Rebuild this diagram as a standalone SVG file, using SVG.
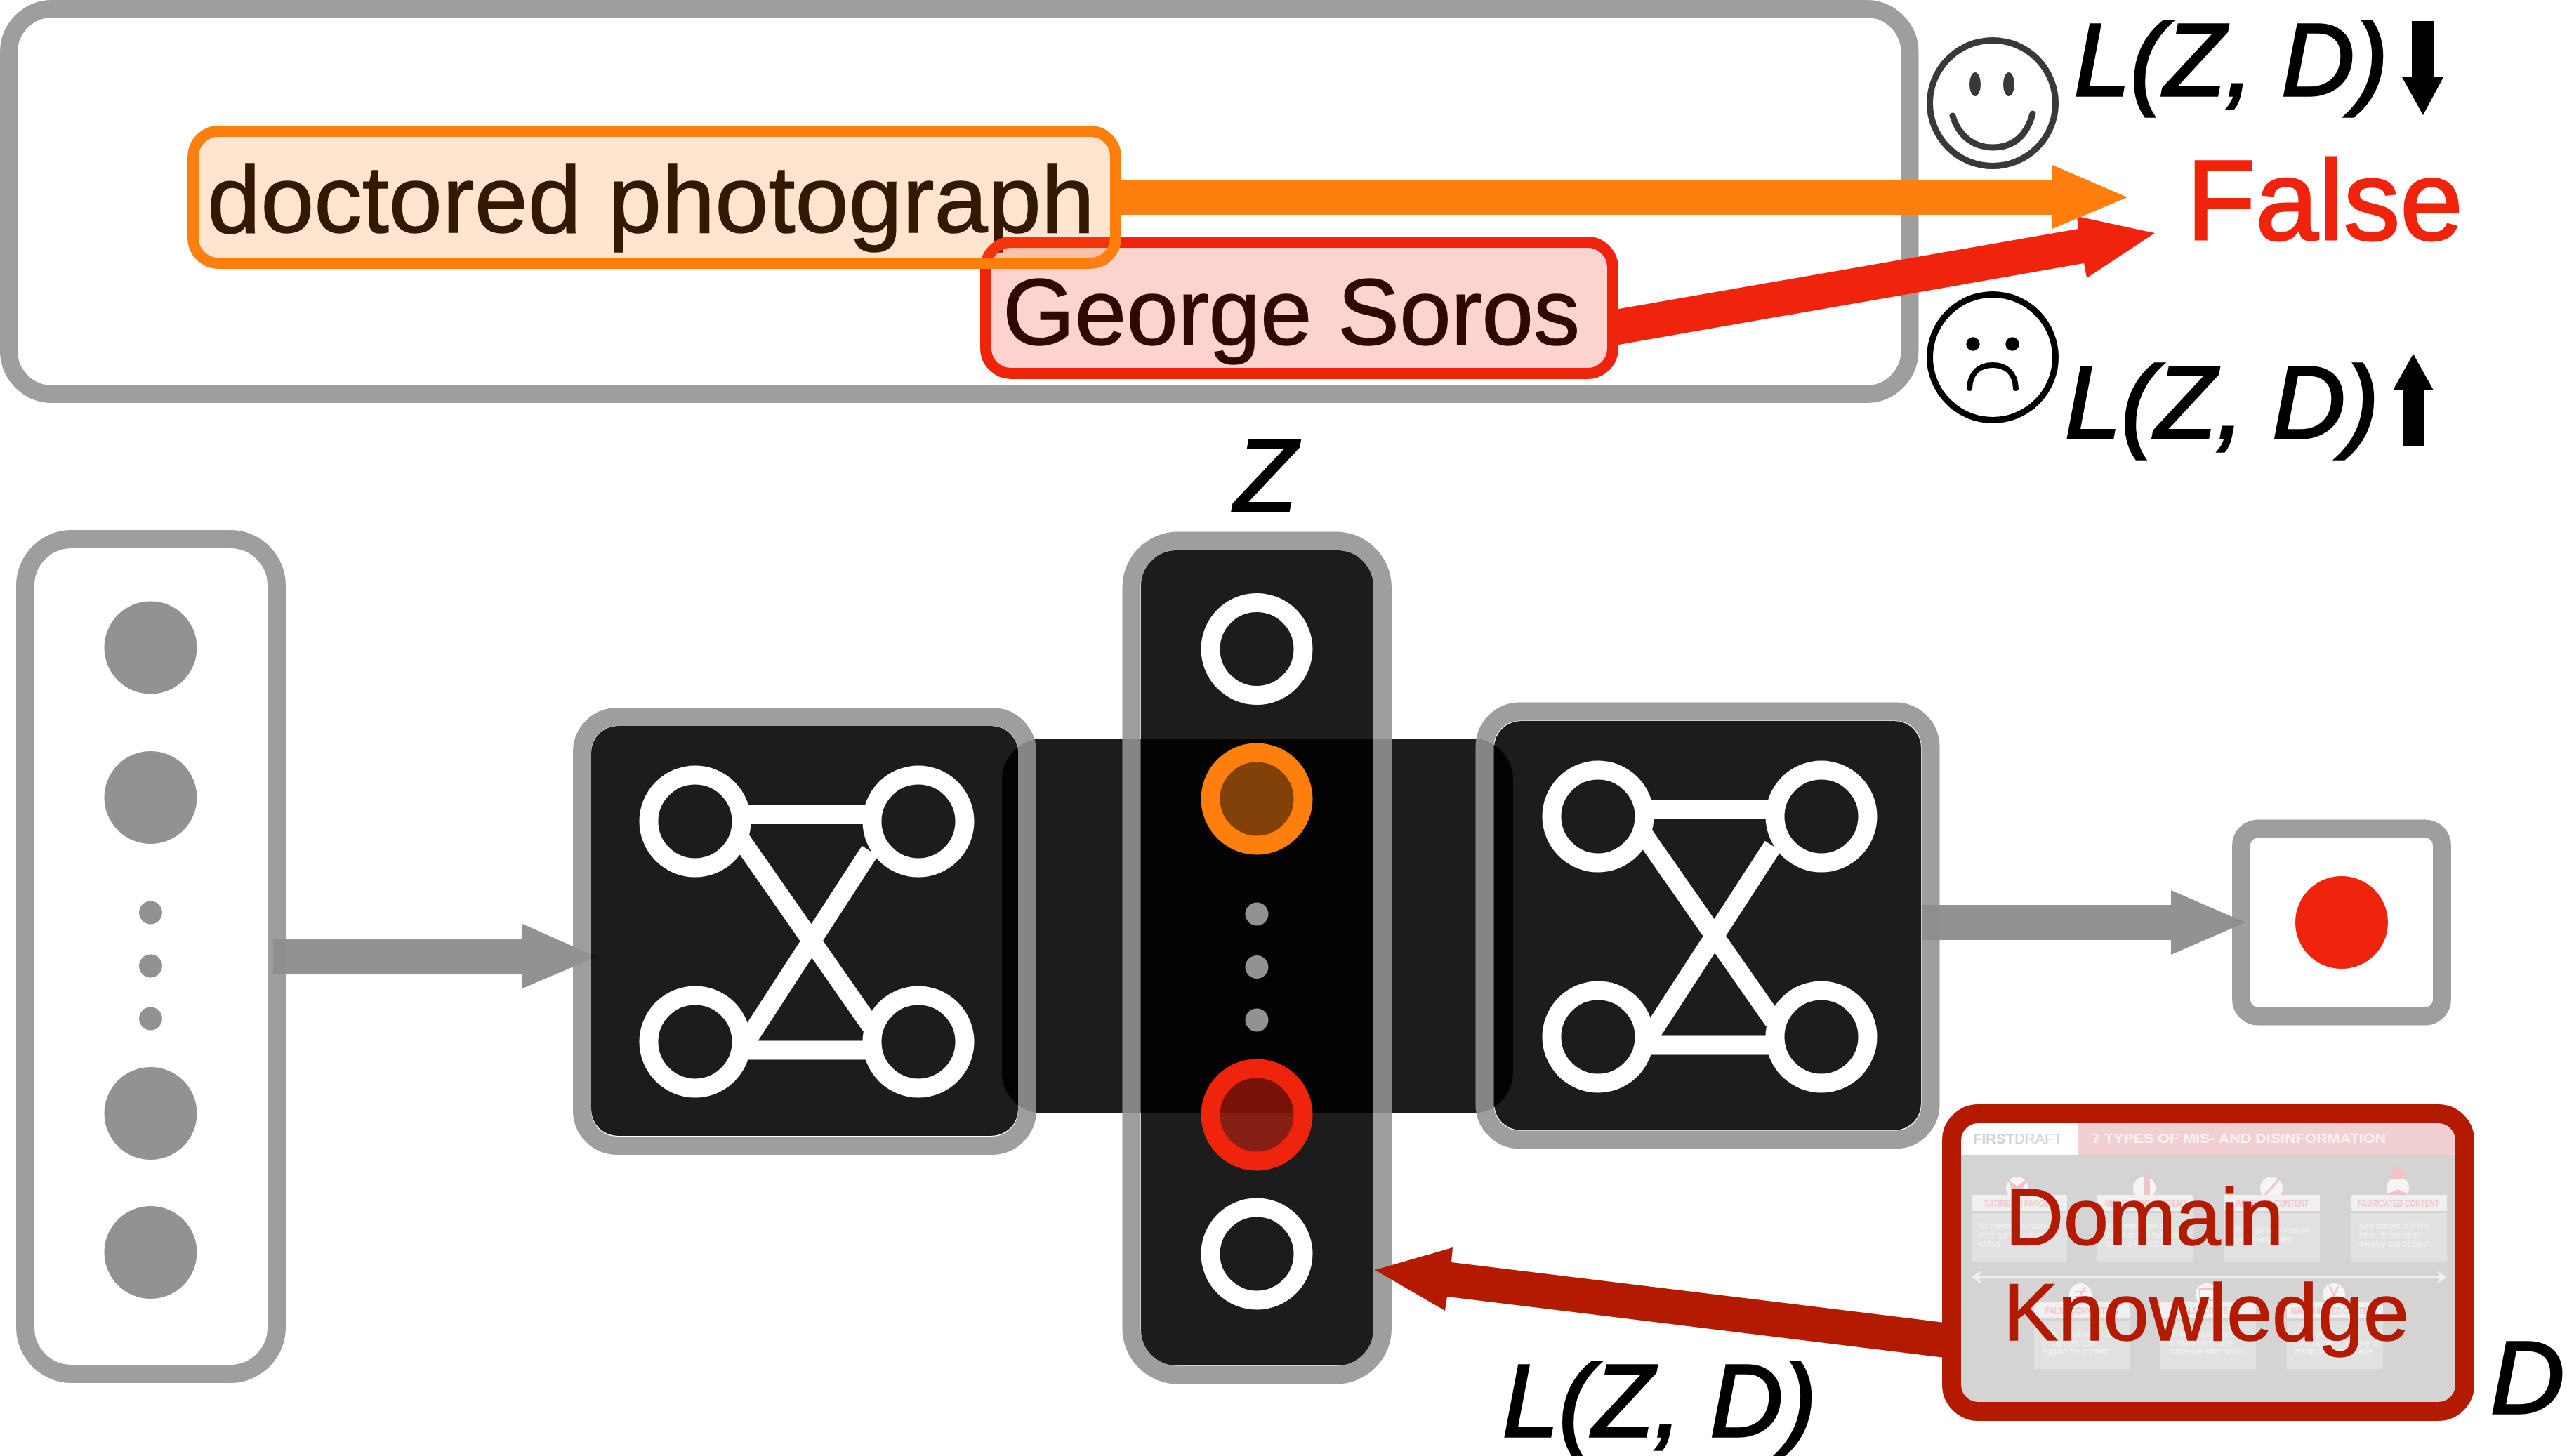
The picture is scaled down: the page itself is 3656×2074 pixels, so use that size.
<svg xmlns="http://www.w3.org/2000/svg" xmlns:xlink="http://www.w3.org/1999/xlink" width="3656" height="2074" viewBox="0 0 3656 2074">
<style>
.t{font-family:"Liberation Sans",Arial,sans-serif}
.i{font-family:"Liberation Sans",Arial,sans-serif;font-style:italic;font-size:146px;fill:#000;stroke:#000;stroke-width:3.5px}
.box{fill:none;stroke:#929292;stroke-opacity:.89;stroke-width:26}
.dark{fill:#000;fill-opacity:.89}
.ring{fill:none;stroke:#fff;stroke-width:27}
.edge{stroke:#fff;stroke-width:27;fill:none}
.gray{fill:#929292}
.arrow{fill:#8e8e8e;fill-opacity:.96}
.card{fill:#e1e1e1}
.head{fill:#f0f0f0}
.ct{font-family:"Liberation Sans",sans-serif;font-size:13.500px;fill:#f2f2f2}
.ch{font-family:"Liberation Sans",sans-serif;font-size:14px;font-weight:bold;fill:#f0c8cc}
.ic{fill:#f5f5f5}
.im{fill:#eec4c8}
</style>
<defs>
<clipPath id="imgclip"><rect x="2793" y="1600" width="705" height="397" rx="20"/></clipPath>
<g id="net">
<line class="edge" x1="1062" y1="1160.5" x2="1234" y2="1160.5"/>
<line class="edge" x1="1062" y1="1496" x2="1236" y2="1496"/>
<line class="edge" x1="1056" y1="1197" x2="1240" y2="1461"/>
<line class="edge" x1="1239" y1="1212" x2="1064" y2="1482"/>
<circle class="ring" cx="990" cy="1170" r="66"/>
<circle class="ring" cx="1308" cy="1170" r="66"/>
<circle class="ring" cx="990" cy="1484" r="66"/>
<circle class="ring" cx="1308" cy="1484" r="66"/>
</g>
</defs>
<rect width="3656" height="2074" fill="#fff"/>

<g id="prediction-frame">
<rect x="12.5" y="12.5" width="2707.5" height="549" rx="62" fill="none" stroke="#9e9e9e" stroke-width="25"/>
</g>

<g id="connectors-top">
<polygon fill="#f0230c" points="2300,441 2960,326 2958,308 3069,332 2972,396 2968,375 2300,492"/>
<polygon fill="#ff7f0e" points="1590,257 2923,257 2923,235 3030,281 2923,326 2923,306 1590,306"/>
</g>

<g id="token-labels">
<text class="t" x="295" y="331" font-size="136" fill="#000" stroke="#000" stroke-width="1.500" textLength="1264" lengthAdjust="spacingAndGlyphs">doctored photograph</text>
<text class="t" x="1428" y="491" font-size="133" fill="#000" stroke="#000" stroke-width="1.500" textLength="822" lengthAdjust="spacingAndGlyphs">George Soros</text>
</g>
<g id="token-george">
<rect x="1404" y="345" width="893" height="187" rx="36" fill="#f0230c" fill-opacity=".2" stroke="#f0230c" stroke-width="16"/>
</g>
<g id="token-doctored">
<rect x="275" y="187" width="1314" height="188" rx="36" fill="#ff7f0e" fill-opacity=".2" stroke="#ff7f0e" stroke-width="16"/>
</g>

<g id="result-false">
<text class="t" x="3114" y="341" font-size="161" fill="#f0230c" stroke="#f0230c" stroke-width="3">False</text>
</g>

<g id="smile">
<circle cx="2838" cy="147" r="89.5" fill="none" stroke="#3a3838" stroke-width="9"/>
<ellipse cx="2813" cy="120" rx="8" ry="17" fill="#3a3838"/>
<ellipse cx="2861" cy="120" rx="8" ry="17" fill="#3a3838"/>
<path d="M2781 165C2790 195 2812 210 2838 210C2866 210 2886 195 2895 162" fill="none" stroke="#3a3838" stroke-width="9" stroke-linecap="round"/>
</g>
<g id="frown">
<circle cx="2838" cy="509" r="89.5" fill="none" stroke="#000" stroke-width="9"/>
<circle cx="2810" cy="490" r="9.7" fill="#000"/>
<circle cx="2866" cy="490" r="9.7" fill="#000"/>
<path d="M2805 553C2806 530 2820 520 2838 520C2856 520 2870 530 2871 553" fill="none" stroke="#000" stroke-width="8" stroke-linecap="round"/>
</g>
<g id="loss-down">
<text class="i" x="2954" y="136" textLength="447" lengthAdjust="spacingAndGlyphs">L(Z, D)</text>
<polygon fill="#000" points="3435,30 3466,30 3466,110 3480,110 3451,164 3421,110 3435,110"/>
</g>
<g id="loss-up">
<text class="i" x="2941" y="624" textLength="447" lengthAdjust="spacingAndGlyphs">L(Z, D)</text>
<polygon fill="#000" points="3437,504 3466,556 3453,556 3453,636 3422,636 3422,556 3408,556"/>
</g>

<g id="input-layer">
<rect class="box" x="36" y="768" width="358" height="1189" rx="66"/>
<circle class="gray" cx="214.500" cy="922.500" r="66"/>
<circle class="gray" cx="214.500" cy="1136" r="66"/>
<circle class="gray" cx="214.500" cy="1300" r="16.500"/>
<circle class="gray" cx="214.500" cy="1376" r="16.500"/>
<circle class="gray" cx="214.500" cy="1451" r="16.500"/>
<circle class="gray" cx="214.500" cy="1586" r="66"/>
<circle class="gray" cx="214.500" cy="1784" r="66"/>
</g>

<g id="connectors-flow">
<polygon class="arrow" points="389,1338 744,1338 744,1316 850,1363 744,1408 744,1387 389,1387"/>
</g>

<g id="bottleneck-band">
<rect class="dark" x="1427" y="1052" width="728" height="534" rx="58"/>
</g>

<g id="encoder">
<rect class="dark" x="842" y="1034" width="608" height="584" rx="38"/>
<rect class="box" x="829" y="1021" width="634" height="611" rx="50"/>
<use xlink:href="#net" href="#net"/>
</g>

<g id="decoder">
<rect class="dark" x="2128" y="1027" width="608" height="583" rx="38"/>
<rect class="box" x="2114.500" y="1013.500" width="635" height="610" rx="50"/>
<use xlink:href="#net" href="#net" transform="translate(1286,-7)"/>
</g>

<g id="latent-z">
<rect class="dark" x="1625" y="784" width="331" height="1161" rx="50"/>
<rect class="box" x="1611.500" y="770.500" width="357.500" height="1188" rx="66"/>
<circle class="ring" cx="1790" cy="924.500" r="66"/>
<circle cx="1790" cy="1138" r="66" fill="#ff7f0e" fill-opacity=".5" stroke="#ff7f0e" stroke-width="27"/>
<circle class="gray" cx="1790" cy="1302" r="16.500"/>
<circle class="gray" cx="1790" cy="1377.500" r="16.500"/>
<circle class="gray" cx="1790" cy="1453" r="16.500"/>
<circle cx="1790" cy="1588" r="66" fill="#f0230c" fill-opacity=".5" stroke="#f0230c" stroke-width="27"/>
<circle class="ring" cx="1790" cy="1786" r="66"/>
<text class="i" x="1758" y="728">Z</text>
</g>

<g id="output-layer">
<rect class="box" x="3192" y="1180.500" width="286" height="267" rx="24"/>
<circle cx="3335" cy="1314" r="66" fill="#f0230c"/>
</g>

<g id="connectors-output">
<polygon class="arrow" points="2737,1289 3092,1289 3092,1268 3198,1314 3092,1360 3092,1339 2737,1339"/>
<polygon fill="#b41a00" points="1958,1809 2069,1777 2067,1798 2770,1884 2770,1934 2061,1847 2058,1867"/>
</g>

<g id="domain-knowledge">
<g clip-path="url(#imgclip)">
<rect x="2793" y="1600" width="705" height="397" fill="#d4d4d4"/>
<rect x="2793" y="1600" width="166" height="45" fill="#fff"/>
<rect x="2959" y="1600" width="539" height="45" fill="#f0d0d3"/>
<text x="2810" y="1629" font-family="Liberation Sans,sans-serif" font-size="21" fill="#d2d2d2" textLength="127" lengthAdjust="spacingAndGlyphs"><tspan font-weight="bold">FIRST</tspan>DRAFT</text>
<text x="2979" y="1628" font-family="Liberation Sans,sans-serif" font-weight="bold" font-size="19" fill="#f8f2f2" textLength="419" lengthAdjust="spacingAndGlyphs">7 TYPES OF MIS- AND DISINFORMATION</text>

<circle class="ic" cx="2873" cy="1692" r="16"/><circle class="ic" cx="3054" cy="1692" r="16"/><circle class="ic" cx="3235" cy="1692" r="16"/><circle class="ic" cx="3415" cy="1692" r="16"/>
<circle class="ic" cx="2963" cy="1844" r="16"/><circle class="ic" cx="3143" cy="1844" r="16"/><circle class="ic" cx="3324" cy="1844" r="16"/>
<path class="im" d="M2858 1678l15 12 15-12-10 22h-10z"/>
<rect class="im" x="3053" y="1672" width="9" height="30"/>
<path d="M3247 1678l-24 28" stroke="#eec4c8" stroke-width="3"/>
<path class="im" d="M3405 1668l10-8 10 8 3 12h-26zM3402 1700l13-6 13 6-4 6h-18z"/>
<path d="M2955 1840h16M2955 1847h16M2970 1833l-14 22" stroke="#eec4c8" stroke-width="2" fill="none"/>
<rect x="3133" y="1836" width="20" height="16" fill="none" stroke="#eec4c8" stroke-width="2"/>
<path d="M3318 1832l6 14 6-14M3318 1856l6-10 6 10" stroke="#eec4c8" stroke-width="2.500" fill="none"/>

<rect class="head" x="2808" y="1702" width="136" height="23"/><rect class="card" x="2808" y="1728" width="136" height="69"/>
<rect class="head" x="2987" y="1702" width="137" height="23"/><rect class="card" x="2987" y="1728" width="137" height="69"/>
<rect class="head" x="3168" y="1702" width="136" height="23"/><rect class="card" x="3168" y="1728" width="136" height="69"/>
<rect class="head" x="3348" y="1702" width="137" height="23"/><rect class="card" x="3348" y="1728" width="137" height="69"/>
<rect class="head" x="2897" y="1855" width="137" height="23"/><rect class="card" x="2897" y="1881" width="137" height="69"/>
<rect class="head" x="3077" y="1855" width="136" height="23"/><rect class="card" x="3077" y="1881" width="136" height="69"/>
<rect class="head" x="3257" y="1855" width="137" height="23"/><rect class="card" x="3257" y="1881" width="137" height="69"/>

<text class="ch" x="2826" y="1719" textLength="100" lengthAdjust="spacingAndGlyphs">SATIRE OR PARODY</text>
<text class="ch" x="2998" y="1719" textLength="116" lengthAdjust="spacingAndGlyphs">MISLEADING CONTENT</text>
<text class="ch" x="3184" y="1719" textLength="104" lengthAdjust="spacingAndGlyphs">IMPOSTER CONTENT</text>
<text class="ch" x="3358" y="1719" textLength="116" lengthAdjust="spacingAndGlyphs">FABRICATED CONTENT</text>
<text class="ch" x="2913" y="1872" textLength="104" lengthAdjust="spacingAndGlyphs">FALSE CONNECTION</text>
<text class="ch" x="3105" y="1872" textLength="80" lengthAdjust="spacingAndGlyphs">FALSE CONTEXT</text>
<text class="ch" x="3263" y="1872" textLength="122" lengthAdjust="spacingAndGlyphs">MANIPULATED CONTENT</text>

<text class="ct" x="2819" y="1751" textLength="97" lengthAdjust="spacingAndGlyphs">No intention to cause</text>
<text class="ct" x="2819" y="1764" textLength="100" lengthAdjust="spacingAndGlyphs">harm but has potential</text>
<text class="ct" x="2819" y="1776" textLength="30" lengthAdjust="spacingAndGlyphs">to fool</text>
<text class="ct" x="2999" y="1751" textLength="85" lengthAdjust="spacingAndGlyphs">Misleading use of</text>
<text class="ct" x="2999" y="1764" textLength="107" lengthAdjust="spacingAndGlyphs">information to frame an</text>
<text class="ct" x="2999" y="1776" textLength="87" lengthAdjust="spacingAndGlyphs">issue or individual</text>
<text class="ct" x="3180" y="1756" textLength="109" lengthAdjust="spacingAndGlyphs">When genuine sources</text>
<text class="ct" x="3180" y="1769" textLength="84" lengthAdjust="spacingAndGlyphs">are impersonated</text>
<text class="ct" x="3360" y="1751" textLength="99" lengthAdjust="spacingAndGlyphs">New content is 100%</text>
<text class="ct" x="3360" y="1764" textLength="85" lengthAdjust="spacingAndGlyphs">false, designed to</text>
<text class="ct" x="3360" y="1776" textLength="101" lengthAdjust="spacingAndGlyphs">deceive and do harm</text>
<text class="ct" x="2908" y="1904" textLength="105" lengthAdjust="spacingAndGlyphs">When headlines, visuals</text>
<text class="ct" x="2908" y="1917" textLength="80" lengthAdjust="spacingAndGlyphs">or captions don't</text>
<text class="ct" x="2908" y="1929" textLength="94" lengthAdjust="spacingAndGlyphs">support the content</text>
<text class="ct" x="3089" y="1904" textLength="105" lengthAdjust="spacingAndGlyphs">When genuine content</text>
<text class="ct" x="3089" y="1917" textLength="91" lengthAdjust="spacingAndGlyphs">is shared with false</text>
<text class="ct" x="3089" y="1929" textLength="107" lengthAdjust="spacingAndGlyphs">contextual information</text>
<text class="ct" x="3268" y="1904" textLength="65" lengthAdjust="spacingAndGlyphs">When genuine</text>
<text class="ct" x="3268" y="1917" textLength="118" lengthAdjust="spacingAndGlyphs">information or imagery is</text>
<text class="ct" x="3268" y="1929" textLength="111" lengthAdjust="spacingAndGlyphs">manipulated to deceive</text>

<path d="M2815 1819H3478" stroke="#f0f0f0" stroke-width="2"/>
<polygon points="2808,1819 2822,1810 2818,1819 2822,1829" fill="#f0f0f0"/>
<polygon points="3485,1819 3471,1810 3475,1819 3471,1829" fill="#f0f0f0"/>
</g>
<rect x="2779.500" y="1586.500" width="731" height="424" rx="38" fill="none" stroke="#b41a00" stroke-width="27"/>
<text class="t" x="2856" y="1773" font-size="115" fill="#b41a00" stroke="#b41a00" stroke-width="1.500">Domain</text>
<text class="t" x="2853" y="1909" font-size="115" fill="#b41a00" stroke="#b41a00" stroke-width="1.500" textLength="578" lengthAdjust="spacingAndGlyphs">Knowledge</text>
</g>

<g id="loss-label"><text class="i" x="2140" y="2046" textLength="447" lengthAdjust="spacingAndGlyphs">L(Z, D)</text></g>
<g id="d-label"><text class="i" x="3547" y="2013">D</text></g>
</svg>
